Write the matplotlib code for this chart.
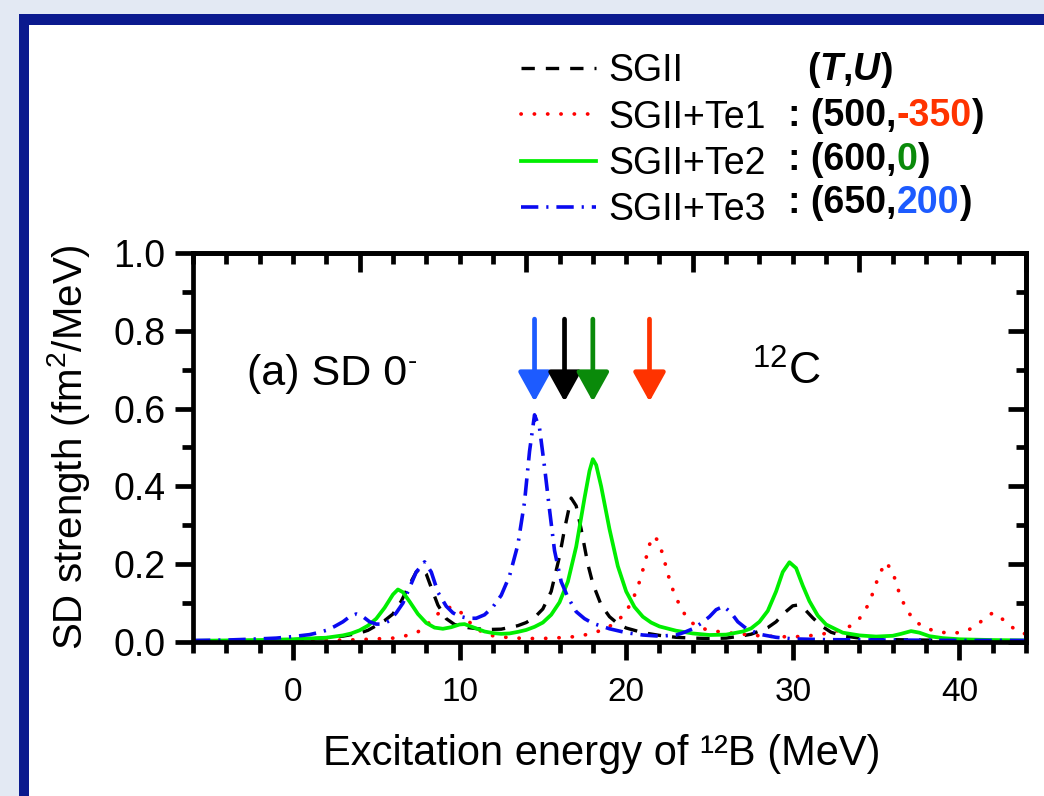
import numpy as np
import matplotlib
matplotlib.use("Agg")
import matplotlib.pyplot as plt
from matplotlib.patches import Rectangle
from matplotlib.ticker import MultipleLocator, FormatStrFormatter, FixedLocator
from matplotlib import font_manager

# ---------------- data ----------------
E_sgii = [-6, -4, -2, 0, 1, 2, 3, 3.5, 4, 4.5, 5, 5.5, 6, 6.5, 7, 7.4, 7.7, 8, 8.3, 8.7,
          9.2, 9.7, 10.5, 11.5, 12.5, 13.5, 14, 14.5, 15, 15.5, 16, 16.3, 16.7, 17.0, 17.3,
          17.7, 18, 18.5, 19, 19.5, 20, 21, 22, 23, 24, 25, 26, 27, 27.5, 28, 28.5, 29,
          29.5, 30.0, 30.3, 30.7, 31.2, 31.7, 32.3, 33, 34, 36, 38, 40, 44]
S_sgii = [0.002, 0.003, 0.004, 0.006, 0.008, 0.011, 0.015, 0.019, 0.023, 0.030, 0.042, 0.055,
          0.072, 0.105, 0.148, 0.180, 0.190, 0.175, 0.140, 0.095, 0.060, 0.045, 0.037, 0.032,
          0.033, 0.042, 0.050, 0.063, 0.085, 0.130, 0.220, 0.290, 0.370, 0.350, 0.290, 0.200,
          0.150, 0.095, 0.065, 0.047, 0.036, 0.024, 0.017, 0.012, 0.010, 0.009, 0.010, 0.016,
          0.020, 0.028, 0.037, 0.052, 0.075, 0.093, 0.095, 0.085, 0.062, 0.042, 0.025, 0.016,
          0.010, 0.006, 0.005, 0.004, 0.003]

E_te1 = [-6, -2, 0, 2, 3, 4, 5, 6, 7, 7.5, 8, 8.5, 9, 9.5, 10, 10.5, 11, 11.5, 12, 13, 14, 15,
         16, 17, 17.5, 18, 18.5, 19, 19.5, 20, 20.5, 20.8, 21.1, 21.4, 21.6, 21.9, 22.2, 22.5,
         22.8, 23.2, 23.6, 24, 24.5, 25, 26, 27, 28, 29, 30, 31, 32, 32.5, 33, 33.5, 34, 34.4,
         34.8, 35.2, 35.6, 36.0, 36.4, 36.8, 37.3, 37.8, 38.5, 39.3, 40, 40.5, 41, 41.5, 42,
         42.5, 43, 43.5, 44]
S_te1 = [0.001, 0.002, 0.003, 0.004, 0.005, 0.006, 0.008, 0.010, 0.018, 0.026, 0.042, 0.065,
         0.083, 0.090, 0.080, 0.055, 0.035, 0.022, 0.016, 0.011, 0.009, 0.009, 0.011, 0.014,
         0.018, 0.023, 0.030, 0.040, 0.055, 0.077, 0.120, 0.155, 0.200, 0.250, 0.272, 0.262,
         0.225, 0.175, 0.135, 0.095, 0.065, 0.048, 0.036, 0.030, 0.024, 0.020, 0.016, 0.014,
         0.013, 0.016, 0.022, 0.027, 0.032, 0.042, 0.060, 0.085, 0.125, 0.175, 0.205, 0.180,
         0.125, 0.085, 0.055, 0.040, 0.028, 0.023, 0.024, 0.030, 0.042, 0.060, 0.075, 0.062,
         0.043, 0.028, 0.020]

E_te2 = [-6, -4, -2, 0, 1, 2, 3, 3.5, 4, 4.5, 5, 5.5, 6, 6.3, 6.6, 7, 7.5, 8, 8.5, 9, 9.5, 10,
         10.3, 10.8, 11.5, 12, 12.5, 13, 13.5, 14, 14.5, 15, 15.5, 16, 16.5, 17, 17.5, 17.8, 18.0,
         18.2, 18.5, 19, 19.5, 20, 20.5, 21, 21.5, 22, 23, 24, 25, 26, 27, 27.5, 28, 28.5, 29,
         29.4, 29.8, 30.2, 30.6, 31, 31.5, 32, 33, 34, 35, 36, 36.5, 37.1, 37.6, 38.2, 39, 40,
         42, 44]
S_te2 = [0.003, 0.004, 0.005, 0.007, 0.009, 0.011, 0.017, 0.022, 0.030, 0.042, 0.060, 0.088,
         0.122, 0.135, 0.128, 0.104, 0.072, 0.049, 0.037, 0.034, 0.038, 0.045, 0.046, 0.038,
         0.027, 0.023, 0.021, 0.022, 0.026, 0.031, 0.039, 0.050, 0.070, 0.102, 0.155, 0.245,
         0.370, 0.440, 0.470, 0.455, 0.400, 0.290, 0.195, 0.130, 0.090, 0.065, 0.050, 0.040,
         0.029, 0.022, 0.018, 0.019, 0.027, 0.035, 0.052, 0.080, 0.130, 0.180, 0.205, 0.190,
         0.145, 0.105, 0.068, 0.045, 0.024, 0.017, 0.014, 0.016, 0.021, 0.028, 0.024, 0.015,
         0.010, 0.007, 0.005, 0.004]

E_te3 = [-6, -4, -2, -1, 0, 1, 1.5, 2, 2.5, 3, 3.4, 3.8, 4.2, 4.6, 5, 5.4, 5.8, 6.2, 6.6, 7,
         7.4, 7.9, 8.3, 8.7, 9.2, 9.6, 10, 10.5, 11, 11.5, 12, 12.5, 13, 13.5, 13.9, 14.2, 14.5,
         14.8, 15.1, 15.4, 15.7, 16.1, 16.5, 17, 17.5, 18, 19, 20, 21, 22, 23, 23.5, 24, 24.5,
         25, 25.4, 25.85, 26.3, 26.7, 27.2, 28, 29, 30, 32, 36, 40, 44]
S_te3 = [0.004, 0.005, 0.008, 0.010, 0.014, 0.019, 0.024, 0.030, 0.040, 0.052, 0.065, 0.072,
         0.065, 0.052, 0.046, 0.046, 0.055, 0.075, 0.100, 0.140, 0.180, 0.206, 0.180, 0.128,
         0.092, 0.075, 0.066, 0.061, 0.061, 0.070, 0.090, 0.120, 0.170, 0.250, 0.360, 0.490,
         0.584, 0.550, 0.450, 0.340, 0.235, 0.155, 0.115, 0.078, 0.060, 0.048, 0.034, 0.024,
         0.018, 0.015, 0.018, 0.025, 0.034, 0.048, 0.065, 0.083, 0.092, 0.075, 0.052, 0.035,
         0.020, 0.012, 0.008, 0.006, 0.005, 0.004, 0.004]

labels = ["SGII", "SGII+Te1", "SGII+Te2", "SGII+Te3"]
arrow_E = [14.5, 16.3, 18.0, 21.4]          # blue, black, green, red arrows
arrow_colors = ["#1d5bff", "#000000", "#0a8a0a", "#ff3300"]
arrow_tip, arrow_tail = 0.618, 0.830

x_ticks = [0, 10, 20, 30, 40]
top_major = [4, 14, 24, 34, 44]
y_ticks = [0.0, 0.2, 0.4, 0.6, 0.8, 1.0]

# ---------------- fonts ----------------
avail = {f.name for f in font_manager.fontManager.ttflist}
SANS = "Liberation Sans" if "Liberation Sans" in avail else "DejaVu Sans"
plt.rcParams["font.family"] = [SANS, "DejaVu Sans"]
plt.rcParams["mathtext.fontset"] = "custom"
plt.rcParams["mathtext.rm"] = SANS
plt.rcParams["mathtext.it"] = SANS + ":italic"
plt.rcParams["mathtext.bf"] = SANS + ":bold"

W, H = 1044, 796
fig = plt.figure(figsize=(W / 100, H / 100), dpi=100)
fig.patch.set_facecolor("#e3e9f3")

# slide frame
fig.add_artist(Rectangle((19 / W, -0.1), 1.2, 782 / H + 0.1, transform=fig.transFigure,
                         facecolor="#0b1a8e", edgecolor="none", zorder=-10))
fig.add_artist(Rectangle((29 / W, -0.1), 1.2, 771 / H + 0.1, transform=fig.transFigure,
                         facecolor="white", edgecolor="none", zorder=-9))

ax = fig.add_axes([193 / W, 154 / H, 833 / W, 389 / H])
ax.patch.set_alpha(0)

l_sgii, = ax.plot(E_sgii, S_sgii, color="black", lw=2.4, dashes=(4.0, 3.3), label=labels[0])
l_te1, = ax.plot(E_te1, S_te1, color="#ff0000", lw=2.7, dashes=(0.05, 3.5),
                 dash_capstyle="round", label=labels[1])
l_te2, = ax.plot(E_te2, S_te2, color="#00ee00", lw=2.7, label=labels[2])
l_te3, = ax.plot(E_te3, S_te3, color="#0a0af0", lw=2.6, dashes=(4.8, 2.2, 0.6, 2.2),
                 label=labels[3])

ax.set_xlim(-6, 44)
ax.set_ylim(0, 1.0)
ax.set_xticks(x_ticks)
ax.xaxis.set_minor_locator(MultipleLocator(2))
ax.set_yticks(y_ticks)
ax.yaxis.set_minor_locator(MultipleLocator(0.1))
ax.yaxis.set_major_formatter(FormatStrFormatter("%.1f"))

SPW = 3.4
for s in ax.spines.values():
    s.set_linewidth(SPW)
ax.tick_params(which="both", direction="out", width=SPW, top=False, right=False)
ax.tick_params(which="major", length=13)
ax.tick_params(which="minor", length=8)
ax.tick_params(axis="x", which="major", pad=12, labelsize=24)
ax.tick_params(axis="y", which="major", pad=7, labelsize=27)

secx = ax.secondary_xaxis("top")
secx.xaxis.set_major_locator(FixedLocator(top_major))
secx.xaxis.set_minor_locator(MultipleLocator(2))
secx.tick_params(which="both", direction="in", width=SPW, labeltop=False)
secx.tick_params(which="major", length=14)
secx.tick_params(which="minor", length=8)
secx.spines["top"].set_linewidth(SPW)

secy = ax.secondary_yaxis("right")
secy.set_yticks(y_ticks)
secy.yaxis.set_minor_locator(MultipleLocator(0.1))
secy.tick_params(which="both", direction="in", width=SPW, labelright=False)
secy.tick_params(which="major", length=13)
secy.tick_params(which="minor", length=7)
secy.spines["right"].set_linewidth(SPW)

ax.set_xlabel("Excitation energy of \u00b9\u00b2B (MeV)", fontsize=30)
ax.xaxis.set_label_coords(0.491, -0.2365)
ax.set_ylabel("SD strength (fm$^2$/MeV)", fontsize=29)
ax.yaxis.set_label_coords(-0.121, 0.5)

# arrows
for e, c in zip(arrow_E, arrow_colors):
    ax.annotate("", xy=(e, arrow_tip), xytext=(e, arrow_tail),
                arrowprops=dict(arrowstyle="-|>,head_length=0.9,head_width=0.5",
                                color=c, lw=3.4, shrinkA=0, shrinkB=0, mutation_scale=20))

t_a = ax.text(0.065, 0.661, "(a) SD 0", transform=ax.transAxes, fontsize=31, va="baseline")
ax.annotate("-", xy=(1.0, 0.80), xycoords=t_a, fontsize=20, va="center", ha="left",
            annotation_clip=False)
ax.text(0.671, 0.661, "$^{12}$C", transform=ax.transAxes, fontsize=32, va="baseline")

# legend
leg = ax.legend(handles=[l_sgii, l_te1, l_te2, l_te3], loc="upper left",
                bbox_to_anchor=(521 / W, 1 - 53 / H), bbox_transform=fig.transFigure,
                frameon=False, fontsize=27, handlelength=2.0, handletextpad=0.33,
                labelspacing=0.28, borderpad=0, borderaxespad=0)

# (T,U) column
def chain(x_px, base_px, parts, size=27):
    prev = None
    for s, color, style in parts:
        kw = dict(fontsize=size, fontweight="bold", color=color, fontstyle=style,
                  annotation_clip=False, ha="left")
        if prev is None:
            prev = ax.annotate(s, xy=(x_px / W, 1 - base_px / H), xycoords="figure fraction",
                               va="baseline", **kw)
        else:
            prev = ax.annotate(s, xy=(1, 0), xycoords=prev, va="bottom", **kw)

chain(807, 80, [("(", "black", "normal"), ("T", "black", "italic"), (",", "black", "normal"),
                ("U", "black", "italic"), (")", "black", "normal")])
chain(788, 126, [(": (500,", "black", "normal"), ("-350", "#ff3300", "normal"), (")", "black", "normal")])
chain(788, 170, [(": (600,", "black", "normal"), ("0", "#0a8a0a", "normal"), (")", "black", "normal")])
chain(788, 213, [(": (650,", "black", "normal"), ("200", "#1d5bff", "normal"), (")", "black", "normal")])

fig.savefig("out.png", dpi=100, facecolor=fig.get_facecolor())
